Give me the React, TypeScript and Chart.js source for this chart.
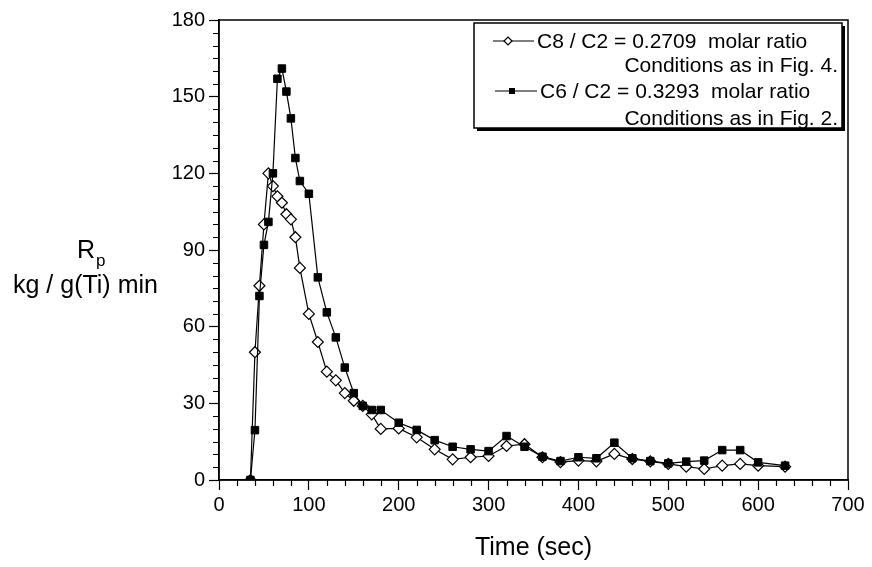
import React, { useEffect, useRef } from 'react';
import { Chart, registerables } from 'chart.js';

Chart.register(...registerables);

// Time (sec)
const timesC8 = [35, 40, 45, 50, 55, 60, 65, 70, 75, 80, 85, 90, 100, 110, 120, 130, 140, 150, 160, 170, 180, 200, 220, 240, 260, 280, 300, 320, 340, 360, 380, 400, 420, 440, 460, 480, 500, 520, 540, 560, 580, 600, 630];
// Rp, kg / g(Ti) min  — C8 / C2 = 0.2709
const valuesC8 = [0, 50, 76, 100, 120, 115, 111, 108.5, 104, 102, 95, 83, 65, 54, 42.4, 39, 34, 31, 29, 25.7, 20, 20.2, 16.7, 12, 8.1, 8.9, 9.4, 13.3, 14, 8.9, 7, 7.6, 7.3, 10.2, 8.2, 7.3, 6.3, 5.2, 4.3, 5.6, 6.3, 5.6, 5.2];

const timesC6 = [35, 40, 45, 50, 55, 60, 65, 70, 75, 80, 85, 90, 100, 110, 120, 130, 140, 150, 160, 170, 180, 200, 220, 240, 260, 280, 300, 320, 340, 360, 380, 400, 420, 440, 460, 480, 500, 520, 540, 560, 580, 600, 630];
// Rp, kg / g(Ti) min  — C6 / C2 = 0.3293
const valuesC6 = [0, 19.5, 72, 92, 101, 120, 157, 161, 152, 141.5, 126, 117, 112, 79.3, 65.6, 55.8, 44, 34, 29, 27.4, 27.4, 22.4, 19.6, 15.6, 13, 12, 11.3, 17.2, 13, 9.1, 7.4, 8.9, 8.5, 14.6, 8.5, 7.4, 6.5, 7.2, 7.6, 11.7, 11.7, 6.9, 5.6];

const xTickValues = [0, 100, 200, 300, 400, 500, 600, 700];
const yTickValues = [0, 30, 60, 90, 120, 150, 180];
const xMinorStep = 20;
const yMinorStep = 5;

const legendLines = [
  'C8 / C2 = 0.2709  molar ratio',
  'Conditions as in Fig. 4.',
  'C6 / C2 = 0.3293  molar ratio',
  'Conditions as in Fig. 2.',
];

const xTitle = 'Time (sec)';
const yTitleMain = 'R';
const yTitleSub = 'p';
const yTitleUnits = 'kg / g(Ti) min';

const FONT = '"Liberation Sans", Arial, Helvetica, sans-serif';

const framePlugin = {
  id: 'frameAndExtras',
  afterDraw(chart: any) {
    const { ctx, chartArea } = chart;
    const xs = chart.scales.x;
    const ys = chart.scales.y;
    ctx.save();
    ctx.strokeStyle = '#000';
    ctx.lineWidth = 1.5;
    // frame
    ctx.strokeRect(chartArea.left, chartArea.top, chartArea.right - chartArea.left, chartArea.bottom - chartArea.top);

    // minor ticks
    ctx.lineWidth = 1.2;
    ctx.beginPath();
    for (let v = xs.min; v <= xs.max; v += xMinorStep) {
      if (xTickValues.includes(v)) continue;
      const px = Math.round(xs.getPixelForValue(v)) + 0.5;
      ctx.moveTo(px, chartArea.bottom);
      ctx.lineTo(px, chartArea.bottom + 6);
    }
    for (let v = ys.min; v <= ys.max; v += yMinorStep) {
      if (yTickValues.includes(v)) continue;
      const py = Math.round(ys.getPixelForValue(v)) + 0.5;
      ctx.moveTo(chartArea.left, py);
      ctx.lineTo(chartArea.left - 6, py);
    }
    ctx.stroke();

    // y title
    ctx.fillStyle = '#000';
    ctx.textBaseline = 'alphabetic';
    ctx.textAlign = 'left';
    ctx.font = `25px ${FONT}`;
    ctx.fillText(yTitleMain, 77, 258);
    const rw = ctx.measureText(yTitleMain).width;
    ctx.font = `17px ${FONT}`;
    ctx.fillText(yTitleSub, 77 + rw + 1, 266);
    ctx.font = `25px ${FONT}`;
    ctx.fillText(yTitleUnits, 13, 293);

    // legend
    const bx = 474, by = 23, bw = 368, bh = 105;
    ctx.fillStyle = '#000';
    ctx.fillRect(bx + 3, by + 3, bw, bh);
    ctx.fillStyle = '#fff';
    ctx.fillRect(bx, by, bw, bh);
    ctx.lineWidth = 1.5;
    ctx.strokeRect(bx, by, bw, bh);

    ctx.fillStyle = '#000';
    ctx.font = `21px ${FONT}`;
    ctx.textAlign = 'left';
    ctx.fillText(legendLines[0], 537, 48);
    ctx.fillText(legendLines[2], 540, 98);
    ctx.textAlign = 'right';
    ctx.fillText(legendLines[1], 838, 72);
    ctx.fillText(legendLines[3], 838, 125);

    // legend samples
    ctx.lineWidth = 1.2;
    ctx.beginPath();
    ctx.moveTo(493, 41); ctx.lineTo(534, 41);
    ctx.moveTo(495, 91); ctx.lineTo(537, 91);
    ctx.stroke();
    // diamond
    ctx.beginPath();
    ctx.moveTo(508, 37); ctx.lineTo(512, 41); ctx.lineTo(508, 45); ctx.lineTo(504, 41); ctx.closePath();
    ctx.fillStyle = '#fff';
    ctx.fill();
    ctx.stroke();
    // square
    ctx.fillStyle = '#000';
    ctx.fillRect(509, 88, 6, 6);
    ctx.restore();
  },
};

export default function App() {
  const ref = useRef<HTMLCanvasElement | null>(null);

  useEffect(() => {
    if (!ref.current) return;
    const c8 = timesC8.map((t, i) => ({ x: t, y: valuesC8[i] }));
    const c6 = timesC6.map((t, i) => ({ x: t, y: valuesC6[i] }));
    const chart = new Chart(ref.current, {
      type: 'line',
      data: {
        datasets: [
          {
            label: legendLines[2],
            data: c6,
            borderColor: '#000',
            borderWidth: 1.2,
            pointStyle: 'rect',
            pointRadius: 5.3,
            pointBackgroundColor: '#000',
            pointBorderColor: '#000',
            pointBorderWidth: 1,
            tension: 0,
            fill: false,
            order: 0,
          },
          {
            label: legendLines[0],
            data: c8,
            borderColor: '#000',
            borderWidth: 1.2,
            pointStyle: 'rectRot',
            pointRadius: 5.5,
            pointBackgroundColor: '#fff',
            pointBorderColor: '#000',
            pointBorderWidth: 1.2,
            tension: 0,
            fill: false,
            order: 1,
          },
        ],
      },
      options: {
        responsive: false,
        animation: false,
        devicePixelRatio: 1,
        events: [],
        layout: { padding: { left: 0, top: 20, right: 24, bottom: 0 } },
        plugins: {
          legend: { display: false },
          tooltip: { enabled: false },
          title: { display: false },
        },
        scales: {
          x: {
            type: 'linear',
            position: 'bottom',
            min: 0,
            max: 700,
            afterFit: (s: any) => { s.height = 87; },
            afterBuildTicks: (s: any) => { s.ticks = xTickValues.map((v) => ({ value: v })); },
            ticks: {
              stepSize: 100,
              color: '#000',
              font: { family: FONT, size: 20 },
              padding: 3,
              maxRotation: 0,
            },
            grid: {
              display: true,
              drawOnChartArea: false,
              drawTicks: true,
              tickLength: 10,
              tickColor: '#000',
              tickWidth: 1.2,
            },
            border: { display: true, color: '#000', width: 1.5 },
            title: {
              display: true,
              text: xTitle,
              color: '#000',
              font: { family: FONT, size: 25 },
              padding: { top: 0, bottom: 4 },
            },
          },
          y: {
            type: 'linear',
            min: 0,
            max: 180,
            afterFit: (s: any) => { s.width = 219; },
            afterBuildTicks: (s: any) => { s.ticks = yTickValues.map((v) => ({ value: v })); },
            ticks: {
              stepSize: 30,
              color: '#000',
              font: { family: FONT, size: 20 },
              padding: 4,
            },
            grid: {
              display: true,
              drawOnChartArea: false,
              drawTicks: true,
              tickLength: 10,
              tickColor: '#000',
              tickWidth: 1.2,
            },
            border: { display: true, color: '#000', width: 1.5 },
          },
        },
      },
      plugins: [framePlugin],
    });
    return () => chart.destroy();
  }, []);

  return (
    <div style={{ position: 'fixed', left: 0, top: 0, width: 872, height: 567, background: '#fff' }}>
      <canvas ref={ref} width={872} height={567} />
    </div>
  );
}
